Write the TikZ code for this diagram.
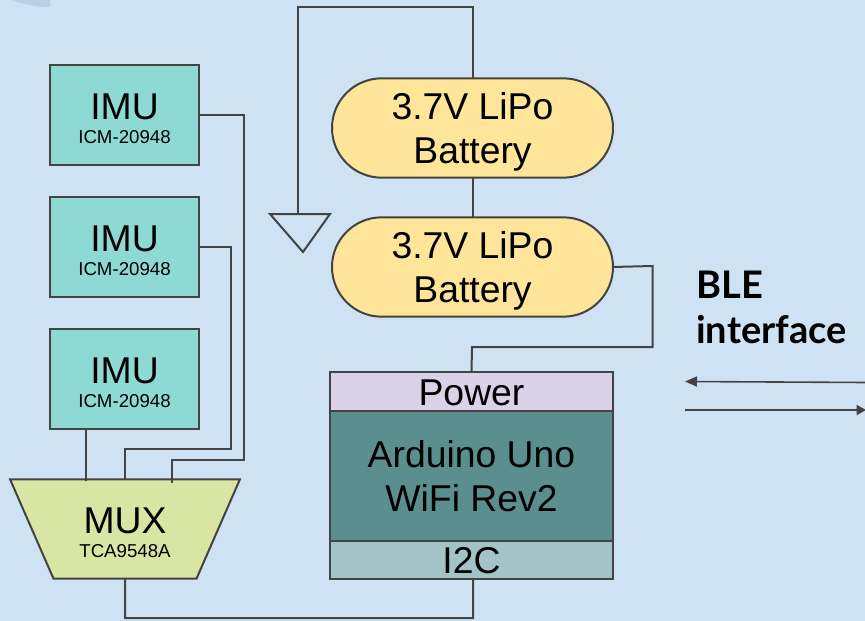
\documentclass[tikz,border=0pt]{standalone}
\usepackage{fontspec}
\setmainfont{Liberation Sans}
\newfontfamily\blefont{Lato}
\usetikzlibrary{shapes.geometric,shapes.misc,arrows.meta,calc}
\definecolor{bgc}{HTML}{CFE2F3}
\definecolor{linec}{HTML}{434343}
\definecolor{imuc}{HTML}{8ED9D3}
\definecolor{batc}{HTML}{FFE599}
\definecolor{powc}{HTML}{D9D2E9}
\definecolor{ardc}{HTML}{5B8F8F}
\definecolor{i2cc}{HTML}{A2C4C9}
\definecolor{muxc}{HTML}{D9E6A3}
\definecolor{blobc}{HTML}{BDCFE2}
\tikzset{
  box/.style={draw=linec,line width=1.5pt,inner sep=0pt,outer sep=0pt,align=center,text=black},
  imubox/.style={box,fill=imuc,minimum width=111.75pt,minimum height=74.5pt},
  batbox/.style={box,fill=batc,rounded rectangle,minimum width=210.75pt,minimum height=74.5pt},
  boardbox/.style={box,minimum width=212.25pt},
  wire/.style={draw=linec,line width=1.5pt},
  bigt/.style={font=\fontsize{28}{33}\selectfont},
  bletext/.style={anchor=base west,inner sep=0pt,font=\blefont\bfseries\fontsize{28.5}{28.5}\selectfont},
}
\newcommand{\twolevel}[2]{\fontsize{28}{28}\selectfont\rule{0pt}{25pt}#1\\[5.5pt]\fontsize{14}{14}\selectfont #2}
\begin{document}
\begin{tikzpicture}[x=0.75pt,y=-0.75pt]
\useasboundingbox (0,0) rectangle (865,621);
\fill[bgc] (0,0) rectangle (865,621);
\fill[blobc] (12,0) .. controls (25,5) and (38,7) .. (50,7) -- (50,0) -- cycle;

% IMUs
\node[imubox] (imua) at (124.5,115) {\twolevel{IMU}{ICM-20948}};
\node[imubox] (imub) at (124.5,247) {\twolevel{IMU}{ICM-20948}};
\node[imubox] (imuc) at (124.5,379) {\twolevel{IMU}{ICM-20948}};

% MUX
\node[box,fill=muxc,trapezium,shape border rotate=180,trapezium stretches=true,
  trapezium angle=64,minimum width=172.5pt,minimum height=74.5pt] (mux) at (125,529)
  {\twolevel{MUX}{TCA9548A}};

% batteries
\node[batbox,bigt] (bata) at (472.5,128) {\rule{0pt}{25.5pt}3.7V LiPo\\Battery};
\node[batbox,bigt] (batb) at (472.5,267) {\rule{0pt}{25.5pt}3.7V LiPo\\Battery};

% board
\node[boardbox,fill=powc,minimum height=29.25pt,bigt] (pow) at (471.5,391.5) {\rule{0pt}{22pt}Power};
\node[boardbox,fill=ardc,minimum height=97.5pt,bigt] (ard) at (471.5,476) {Arduino Uno\\WiFi Rev2};
\node[boardbox,fill=i2cc,minimum height=28.5pt,bigt] (i2c) at (471.5,560) {\rule{0pt}{21pt}I2C};

% ground symbol and wires
\coordinate (gndl) at (270,214);
\coordinate (gndr) at (330,214);
\coordinate (gndt) at (303,252);
\draw[wire,line join=miter] (gndl) -- (gndr) -- (gndt) -- cycle;
\coordinate (gndin) at (298,214);

\coordinate (wa1) at (244,115);
\coordinate (wa2) at (244,460);
\coordinate (wa3) at (172,460);
\coordinate (wa4) at (172,483);
\draw[wire] (imua.east) -- (wa1) -- (wa2) -- (wa3) -- (wa4);
\coordinate (wb1) at (231,247);
\coordinate (wb2) at (231,449);
\coordinate (wb3) at (125,449);
\coordinate (wb4) at (125,479);
\draw[wire] (imub.east) -- (wb1) -- (wb2) -- (wb3) -- (wb4);
\coordinate (wc) at (86,481);
\draw[wire] (imuc.south -| wc) -- (wc);
\coordinate (wd1) at (125,618);
\coordinate (wd2) at (473,618);
\draw[wire] (mux.south) -- (wd1) -- (wd2) -- (i2c.south -| wd2);
\coordinate (we1) at (473,7);
\coordinate (we2) at (298,7);
\draw[wire] (bata.north -| we1) -- (we1) -- (we2) -- (gndin);
\draw[wire] (bata.south -| we1) -- (batb.north -| we1);
\coordinate (wf1) at (652.5,266);
\coordinate (wf2) at (652.5,347);
\coordinate (wf3) at (472,347);
\draw[wire] (batb.east) -- (wf1) -- (wf2) -- (wf3) -- (pow.north);

% BLE
\node[bletext] (ble) at (696,298) {BLE};
\node[bletext] (iface) at (696,343.5) {interface};
\coordinate (ara) at (866,382.5);
\coordinate (arb) at (685,381.5);
\coordinate (arc) at (685,410);
\coordinate (ard2) at (866,410);
\draw[wire,line width=1.2pt,-{Triangle[length=9pt,width=7.5pt]}] (ara) -- (arb);
\draw[wire,line width=1.2pt,-{Triangle[length=7pt,width=7.5pt]}] (arc) -- (ard2);
\end{tikzpicture}
\end{document}
